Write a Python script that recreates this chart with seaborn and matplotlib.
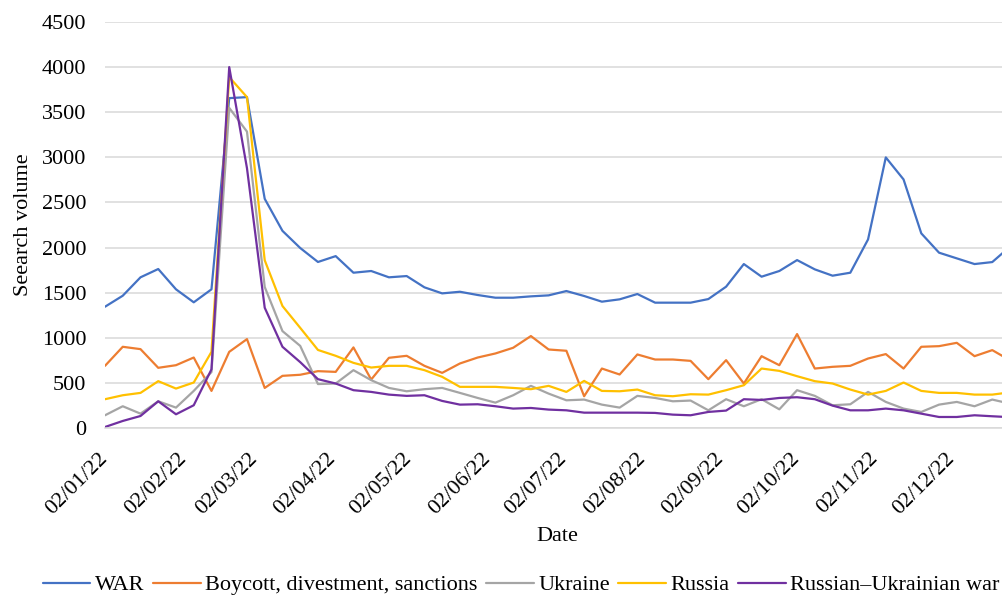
import numpy as np
import pandas as pd
import matplotlib
matplotlib.use("Agg")
import matplotlib.pyplot as plt
import seaborn as sns

# Weekly search volume, weeks starting Sunday 2 Jan 2022
weeks = pd.date_range("2022-01-02", periods=52, freq="7D")

war = [1344, 1466, 1670, 1762, 1537, 1393, 1537, 3656, 3667, 2540,
       2185, 1995, 1840, 1905, 1721, 1740, 1670, 1684, 1559, 1492,
       1510, 1474, 1444, 1444, 1459, 1470, 1518, 1463, 1400, 1426,
       1485, 1389, 1389, 1389, 1429, 1566, 1817, 1677, 1740, 1861,
       1758, 1688, 1721, 2090, 2999, 2755, 2157, 1943, 1880, 1817,
       1839, 2010]
boycott = [689, 900, 874, 667, 696, 781, 411, 844, 985, 444,
           578, 590, 630, 622, 893, 537, 778, 800, 689, 611,
           715, 781, 826, 889, 1019, 870, 856, 352, 659, 593,
           815, 759, 759, 744, 541, 752, 493, 796, 696, 1041,
           659, 678, 689, 770, 819, 659, 900, 907, 944, 796,
           863, 750]
ukraine = [141, 241, 159, 296, 226, 411, 620, 3548, 3285, 1563,
           1074, 910, 487, 493, 641, 530, 444, 407, 430, 444,
           389, 333, 281, 363, 467, 381, 307, 315, 259, 226,
           356, 333, 296, 304, 196, 319, 241, 319, 207, 419,
           356, 252, 263, 400, 289, 215, 178, 259, 289, 241,
           315, 270]
russia = [319, 363, 389, 519, 437, 504, 844, 3889, 3667, 1859,
          1352, 1110, 865, 800, 722, 670, 689, 689, 641, 567,
          456, 456, 456, 444, 430, 467, 400, 522, 411, 407,
          426, 363, 352, 374, 370, 419, 474, 659, 633, 574,
          519, 493, 426, 370, 411, 504, 411, 389, 389, 370,
          370, 395]
ru_ua_war = [11, 78, 133, 296, 152, 252, 650, 4000, 2880, 1333,
             900, 730, 541, 493, 419, 400, 370, 356, 363, 300,
             259, 263, 241, 215, 222, 204, 196, 170, 170, 170,
             170, 167, 148, 141, 178, 193, 319, 311, 333, 341,
             319, 248, 196, 196, 215, 196, 159, 122, 122, 141,
             130, 120]

terms = ["WAR", "Boycott, divestment, sanctions", "Ukraine", "Russia",
         "Russian–Ukrainian war"]
colors = ["#4472C4", "#ED7D31", "#A5A5A5", "#FFC000", "#7030A0"]
y_ticks = list(range(0, 4501, 500))

df = pd.DataFrame({
    "Date": np.tile(weeks, len(terms)),
    "Volume": np.concatenate([war, boycott, ukraine, russia, ru_ua_war]),
    "Term": np.repeat(terms, len(weeks)),
})

sns.set_theme(style="white")
plt.rcParams["font.family"] = ["Liberation Serif", "DejaVu Serif"]
plt.rcParams["text.color"] = "black"

fig = plt.figure(figsize=(10.02, 6.07), dpi=100)
# plot area runs past the right edge of the figure
ax = fig.add_axes([0.1048, 0.2949, 0.9032, 0.6689])

sns.lineplot(data=df, x="Date", y="Volume", hue="Term", hue_order=terms,
             palette=colors, linewidth=1.6, ax=ax)

handles, labels = ax.get_legend_handles_labels()
ax.get_legend().remove()

ax.set_xlim(weeks[0], weeks[-1])
ax.set_ylim(0, 4500)

month_ticks = pd.date_range("2022-01-02", "2022-12-02",
                            freq=pd.DateOffset(months=1))
ax.set_xticks(month_ticks)
ax.set_xticklabels([d.strftime("%d/%m/%y") for d in month_ticks],
                   rotation=45, ha="right", va="center",
                   rotation_mode="anchor", fontsize=16, color="black")
ax.set_yticks(y_ticks)
ax.set_yticklabels([str(v) for v in y_ticks], fontsize=16, color="black")
ax.tick_params(axis="x", length=0, pad=20)
ax.tick_params(axis="y", length=0, pad=13.5)

ax.grid(axis="y", color="#D9D9D9", linewidth=1.1)
ax.grid(axis="x", visible=False)
ax.set_axisbelow(True)
for side in ["top", "right", "left"]:
    ax.spines[side].set_visible(False)
ax.spines["bottom"].set_color("#D9D9D9")
ax.spines["bottom"].set_linewidth(1.1)

ax.set_xlabel("Date", fontsize=16, color="black")
ax.xaxis.set_label_coords(0.5, -0.268)
ax.xaxis.label.set_va("center")
ax.set_ylabel("Seearch volume", fontsize=16, color="black")
ax.yaxis.set_label_coords(-0.0906, 0.5)
ax.yaxis.label.set_va("center")

fig.legend(handles, labels, loc="center", bbox_to_anchor=(0.52, 0.036),
           ncol=5, frameon=False, fontsize=16, handlelength=2.15,
           handletextpad=0.2, columnspacing=0.38, borderpad=0,
           borderaxespad=0)

fig.savefig("out.png", dpi=100)
